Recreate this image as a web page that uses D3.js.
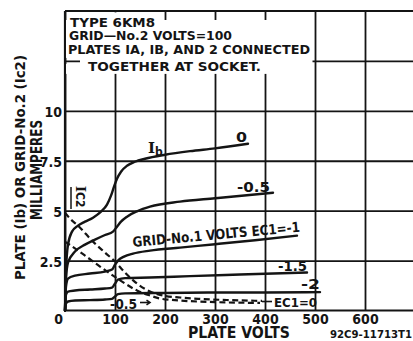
<!DOCTYPE html>
<html><head><meta charset="utf-8">
<script src="https://cdn.jsdelivr.net/npm/d3@7/dist/d3.min.js"></script>
<style>body{margin:0;background:#fff}svg{display:block}</style>
</head><body>
<svg id="c" width="413" height="341"></svg>
<script>
// ---- data ----
const plateVoltTicks = [0, 100, 200, 300, 400, 500, 600];
const currentTicks = [2.5, 5, 7.5, 10, 12.5];
const currentTickLabels = ["2.5", "5", "7.5", "10", ""];
const grid1Volts = ["0", "-0.5", "-1", "-1.5", "-2"];
// plate current Ib (mA) vs plate volts, one array per grid-No.1 voltage
const ibVolts_0    = [0, 2, 6, 14, 26, 40, 56, 72, 84, 92, 98, 104, 112, 124, 140, 160, 200, 250, 300, 366];
const ibCurrent_0  = [0, 2.0, 3.3, 3.95, 4.25, 4.45, 4.65, 4.95, 5.3, 5.75, 6.2, 6.6, 6.95, 7.25, 7.45, 7.6, 7.8, 7.98, 8.12, 8.35];
const ibVolts_05   = [0, 2, 6, 20, 40, 60, 80, 96, 104, 112, 124, 145, 170, 230, 300, 416];
const ibCurrent_05 = [0, 1.6, 2.4, 2.95, 3.3, 3.55, 3.78, 3.95, 4.2, 4.45, 4.7, 4.98, 5.2, 5.45, 5.62, 5.9];
const ibVolts_1    = [0, 2, 6, 20, 50, 80, 94, 100, 106, 118, 136, 170, 230, 300, 380, 464];
const ibCurrent_1  = [0, 1.2, 1.6, 1.75, 1.85, 1.95, 2.05, 2.3, 2.5, 2.7, 2.85, 3.0, 3.15, 3.32, 3.52, 3.75];
const ibVolts_15   = [0, 2, 6, 20, 50, 80, 94, 100, 106, 120, 170, 250, 350, 484];
const ibCurrent_15 = [0, 0.8, 0.95, 1.0, 1.05, 1.1, 1.15, 1.35, 1.55, 1.62, 1.65, 1.72, 1.8, 1.9];
const ibVolts_2    = [0, 2, 6, 20, 50, 80, 94, 100, 106, 120, 200, 300, 400, 510];
const ibCurrent_2  = [0, 0.35, 0.45, 0.5, 0.52, 0.55, 0.58, 0.7, 0.82, 0.86, 0.88, 0.9, 0.9, 0.92];
// grid-No.2 current Ic2 (mA) vs plate volts
const ic2Volts_0     = [0, 10, 26, 56, 80, 100, 120, 144, 170, 196, 230, 270, 330, 394];
const ic2Current_0   = [4.9, 4.6, 4.25, 3.45, 2.9, 2.45, 1.9, 1.35, 0.95, 0.75, 0.65, 0.58, 0.52, 0.48];
const ic2Volts_05    = [0, 6, 40, 70, 96, 120, 144, 170, 190, 230, 300, 390];
const ic2Current_05  = [3.45, 3.35, 2.75, 2.2, 1.75, 1.35, 1.0, 0.75, 0.6, 0.5, 0.42, 0.38];

// ---- drawing ----
const F = "'Liberation Sans Narrow','DejaVu Sans Condensed','Arial Narrow',Arial,sans-serif";
const ink = "#141414";
const svg = d3.select("#c");
const x = d3.scaleLinear().domain([0, 700]).range([65, 415]);
const y = d3.scaleLinear().domain([0, 15]).range([310.5, 11]);

// grid via axes
const xAxis = d3.axisBottom(x).tickValues(plateVoltTicks).tickSize(-(y(0) - y(15))).tickPadding(3)
  .tickFormat(d => String(d));
const gx = svg.append("g").attr("transform", `translate(0,${y(0)})`).call(xAxis);
gx.select(".domain").remove();
gx.selectAll("line").attr("stroke", ink).attr("stroke-width", 1.8);
gx.selectAll("text").attr("fill", ink).attr("font-family", F).attr("font-weight", "bold")
  .attr("font-size", 14).attr("dy", "0.72em")
  .attr("dx", d => d === 0 ? -7 : 0);

const yAxis = d3.axisLeft(y).tickValues(currentTicks).tickSize(-(x(700) - x(0))).tickPadding(3)
  .tickFormat((d, i) => currentTickLabels[i]);
const gy = svg.append("g").attr("transform", `translate(${x(0)},0)`).call(yAxis);
gy.select(".domain").remove();
gy.selectAll("line").attr("stroke", ink).attr("stroke-width", 1.8);
gy.selectAll("text").attr("fill", ink).attr("font-family", F).attr("font-weight", "bold")
  .attr("font-size", 14).attr("dy", "0.4em");

// frame
svg.append("line").attr("x1", x(0)).attr("x2", x(0)).attr("y1", y(0)).attr("y2", y(15)).attr("stroke", ink).attr("stroke-width", 2.2);
svg.append("line").attr("x1", x(0)).attr("x2", x(700)).attr("y1", y(15)).attr("y2", y(15)).attr("stroke", ink).attr("stroke-width", 2.2);
svg.append("line").attr("x1", x(0)).attr("x2", x(700)).attr("y1", y(0)).attr("y2", y(0)).attr("stroke", ink).attr("stroke-width", 2.2);

// annotation box (masks grid)
svg.append("rect").attr("x", x(30)).attr("y", y(14.55)).attr("width", x(495) - x(30)).attr("height", y(11.85) - y(14.55)).attr("fill", "#fff");
svg.append("rect").attr("x", x(2)).attr("y", y(14.55)).attr("width", x(30) - x(2)).attr("height", y(12.65) - y(14.55)).attr("fill", "#fff");
svg.append("rect").attr("x", x(2)).attr("y", y(12.35)).attr("width", x(30) - x(2)).attr("height", y(11.85) - y(12.35)).attr("fill", "#fff");
svg.append("rect").attr("x", x(85)).attr("y", y(14.93)).attr("width", x(115) - x(85)).attr("height", y(14.5) - y(14.93)).attr("fill", "#fff");

const note = [
  {t: "TYPE 6KM8", x: 70, y: 27, w: 85},
  {t: "GRID—No.2 VOLTS=100", x: 69, y: 39.5, w: 163},
  {t: "PLATES IA, IB, AND 2 CONNECTED", x: 68, y: 54, w: 242},
  {t: "TOGETHER AT SOCKET.", x: 88, y: 71, w: 173}
];
svg.selectAll(".note").data(note).join("text").attr("x", d => d.x).attr("y", d => d.y)
  .attr("font-family", F).attr("font-weight", "bold").attr("font-size", 13).attr("fill", ink)
  .attr("textLength", d => d.w).attr("lengthAdjust", "spacingAndGlyphs").text(d => d.t);

// curves
const line = d3.line().x(d => x(d[0])).y(d => y(d[1])).curve(d3.curveMonotoneX);
const zip = (a, b) => a.map((v, i) => [v, b[i]]);
const ibSeries = [
  zip(ibVolts_0, ibCurrent_0), zip(ibVolts_05, ibCurrent_05), zip(ibVolts_1, ibCurrent_1),
  zip(ibVolts_15, ibCurrent_15), zip(ibVolts_2, ibCurrent_2)
];
const ic2Series = [zip(ic2Volts_0, ic2Current_0), zip(ic2Volts_05, ic2Current_05)];
svg.selectAll(".ib").data(ibSeries).join("path").attr("d", line)
  .attr("fill", "none").attr("stroke", ink).attr("stroke-width", 2.4).attr("stroke-linecap", "round");
svg.selectAll(".ic2").data(ic2Series).join("path").attr("d", line)
  .attr("fill", "none").attr("stroke", ink).attr("stroke-width", 2.2).attr("stroke-dasharray", "6,3.5");

// curve labels
function lab(t, px, py, size, w, rot) {
  const e = svg.append("text").attr("x", px).attr("y", py).attr("font-family", F).attr("font-weight", "bold")
    .attr("font-size", size).attr("fill", ink).text(t);
  if (w) e.attr("textLength", w).attr("lengthAdjust", "spacingAndGlyphs");
  if (rot) e.attr("transform", `rotate(${rot},${px},${py})`);
  return e;
}
lab(grid1Volts[0], 236, 142, 14, 11);
lab(grid1Volts[1], 237, 192, 14, 33);
lab("GRID-No.1 VOLTS EC1=" + grid1Volts[2], 133, 247, 14, 168, -5.2);
lab(grid1Volts[3], 278, 271, 14, 29);
lab(grid1Volts[4], 301, 289, 14, 19);
lab(grid1Volts[1], 110, 309, 14, 27);
lab("EC1=" + grid1Volts[0], 274, 307, 13, 43);
// arrow & leader
svg.append("path").attr("d", `M${x(150)},${y(0.4)}L${x(168)},${y(0.4)}`).attr("stroke", ink).attr("stroke-width", 1.6);
svg.append("path").attr("d", `M${x(163)},${y(0.52)}L${x(170)},${y(0.4)}L${x(163)},${y(0.28)}`).attr("fill", "none").attr("stroke", ink).attr("stroke-width", 1.6);
svg.append("path").attr("d", `M${x(394)},${y(0.45)}L${x(414)},${y(0.45)}`).attr("stroke", ink).attr("stroke-width", 1.6);

// Ib label
const ibl = svg.append("text").attr("x", 148).attr("y", 153).attr("font-family", "'DejaVu Serif',serif").attr("font-weight", "bold")
  .attr("font-size", 15).attr("fill", ink);
ibl.append("tspan").text("I");
ibl.append("tspan").attr("font-family", F).attr("font-size", 12).attr("dy", 3).text("b");
// Ic2 label
const icl = svg.append("text").attr("transform", "translate(76,186) rotate(90)").attr("font-family", "'DejaVu Serif',serif")
  .attr("font-weight", "bold").attr("font-size", 13).attr("fill", ink);
icl.append("tspan").text("I");
icl.append("tspan").attr("font-family", F).attr("font-size", 12).text("C2");
svg.append("line").attr("x1", 71).attr("x2", 71).attr("y1", 187).attr("y2", 209).attr("stroke", ink).attr("stroke-width", 1.5);

// axis titles
lab("PLATE VOLTS", 188, 338, 15.5, 102);
lab("92C9-11713T1", 330, 338, 11, 82);
svg.append("text").attr("transform", "translate(25,280) rotate(-90)").attr("font-family", F)
  .attr("font-weight", "bold").attr("font-size", 14).attr("fill", ink)
  .attr("textLength", 225).attr("lengthAdjust", "spacingAndGlyphs")
  .text("PLATE (Ib) OR GRID-No.2 (Ic2)");
svg.append("text").attr("transform", "translate(42,220) rotate(-90)").attr("font-family", F)
  .attr("font-weight", "bold").attr("font-size", 15).attr("fill", ink)
  .attr("textLength", 100).attr("lengthAdjust", "spacingAndGlyphs").text("MILLIAMPERES");
</script>
</body></html>
